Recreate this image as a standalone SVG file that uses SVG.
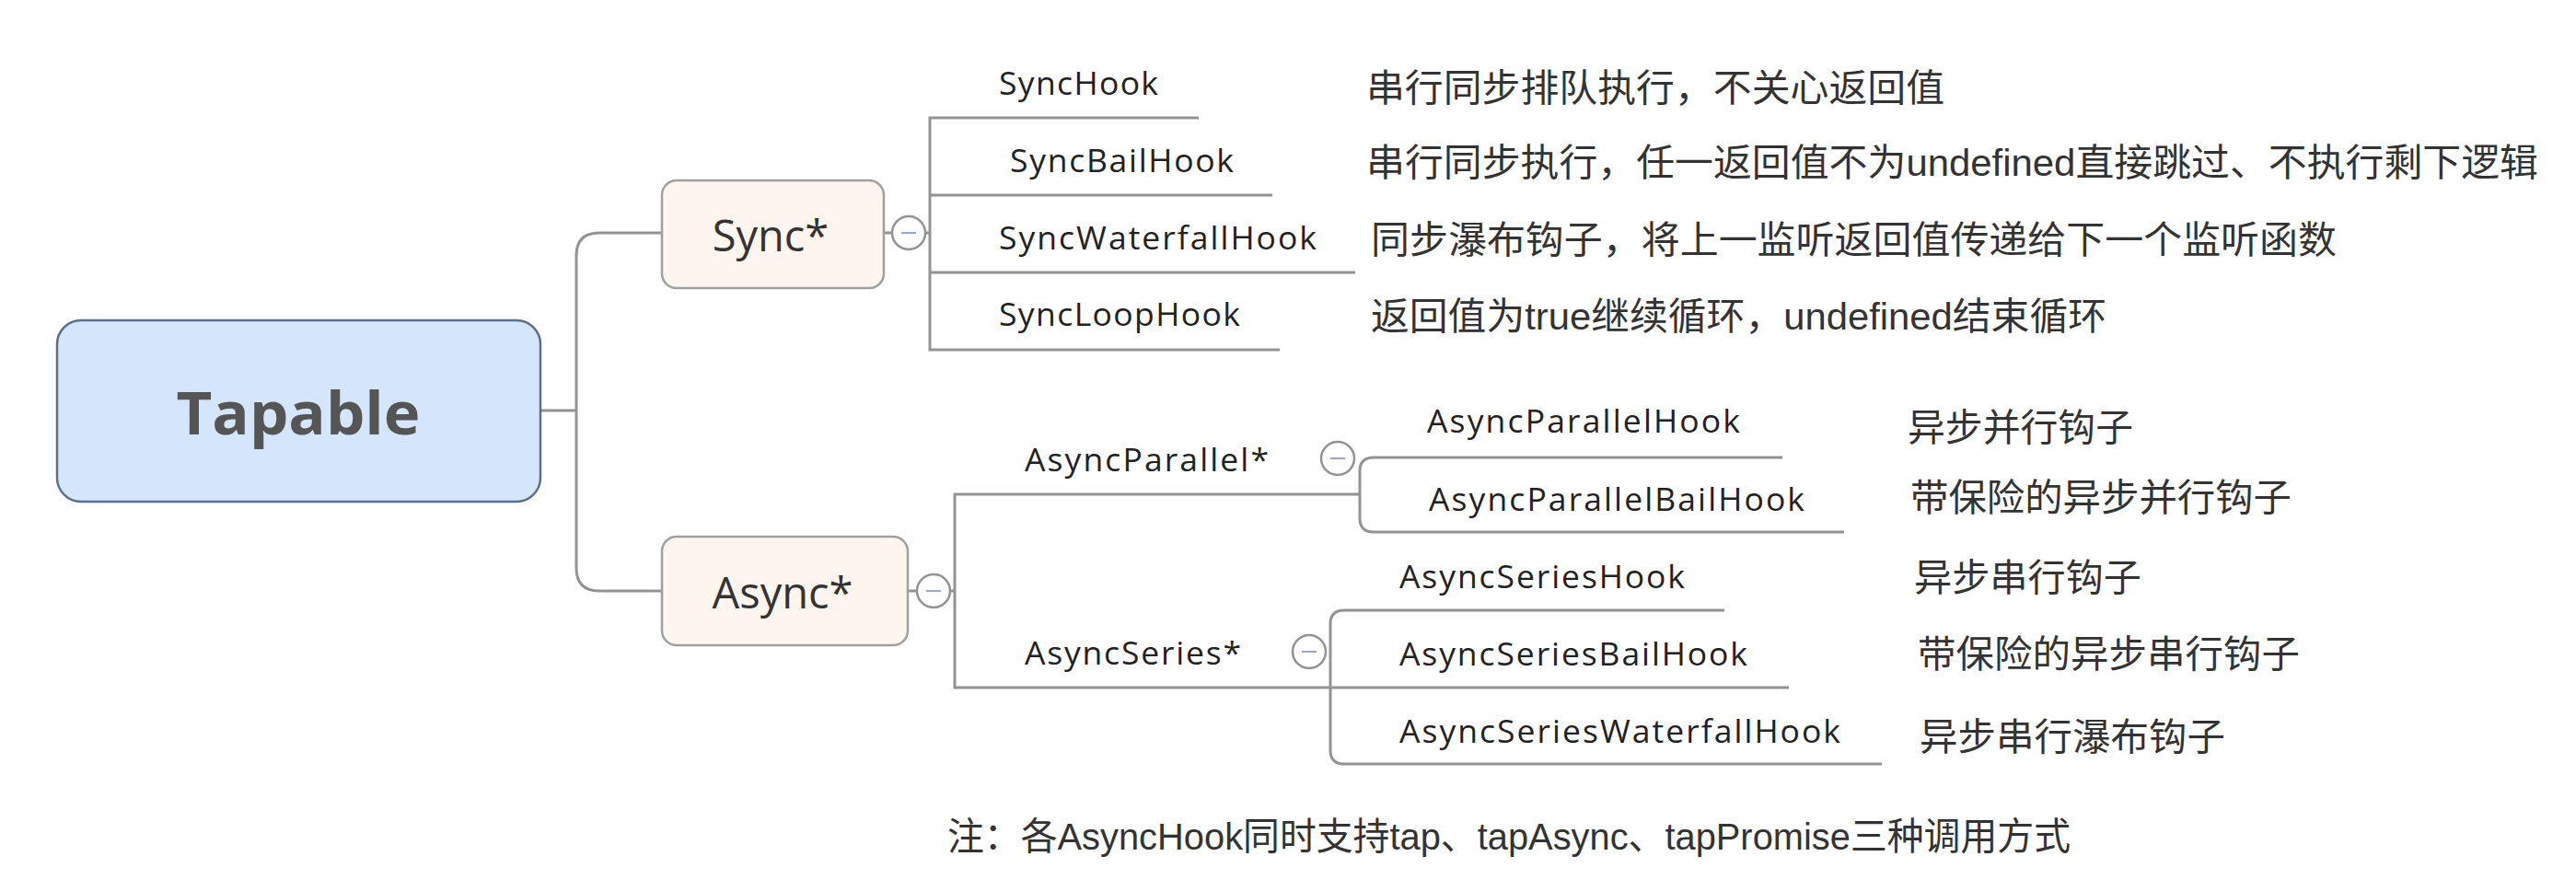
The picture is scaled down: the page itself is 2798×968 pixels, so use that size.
<svg xmlns="http://www.w3.org/2000/svg" width="2798" height="968" viewBox="0 0 2798 968">
<style>
.bg{fill:#ffffff}
.conn{fill:none;stroke:#939393;stroke-width:3}
.toggle circle{fill:#ffffff;stroke:#939393;stroke-width:2.5}
.toggle line{stroke:#98a4d4;stroke-width:2}
.root rect{fill:#d4e5fc;stroke:#5b6f92;stroke-width:2.5}
.root text{font-family:"Open Sans","Liberation Sans",sans-serif;font-weight:bold;font-size:65px;fill:#555555;text-anchor:middle}
.main rect{fill:#fdf5ee;stroke:#a0a0a0;stroke-width:2.5}
.main text{font-family:"Open Sans","Liberation Sans",sans-serif;font-size:47px;fill:#333333;text-anchor:middle}
.lbl{font-family:"Open Sans","Liberation Sans",sans-serif;font-size:35.5px;fill:#222222}
.cn{font-family:"Liberation Sans","Noto Sans CJK SC",sans-serif;font-size:41px;fill:#333333}
</style>
<rect class="bg" x="0" y="0" width="2798" height="968"/>
<g id="connectors">
<path class="conn" d="M587 446 H626"/>
<path class="conn" d="M719 253 H651 Q626 253 626 278 V617 Q626 642 651 642 H719"/>
<path class="conn" d="M960 253 H969 M1005 253 H1010"/>
<path class="conn" d="M1302 128 H1010 V380 H1390 M1010 212 H1382 M1010 296 H1472"/>
<path class="conn" d="M986 642 H996 M1032 642 H1037"/>
<path class="conn" d="M1477 537 H1037 V747 H1943"/>
<path class="conn" d="M1936 497 H1492 Q1477 497 1477 512 V563 Q1477 578 1492 578 H2003"/>
<path class="conn" d="M1873 663 H1460 Q1445 663 1445 678 V815 Q1445 830 1460 830 H2044"/>
</g>
<g id="node-tapable" class="root">
<rect x="62" y="348" width="525" height="197" rx="26" ry="26"/>
<text x="324" y="472" textLength="265" lengthAdjust="spacingAndGlyphs">Tapable</text>
</g>
<g id="node-sync" class="main">
<rect x="719" y="196" width="241" height="117" rx="16" ry="16"/>
<text x="837" y="273">Sync*</text>
</g>
<g id="toggle-sync" class="toggle">
<circle cx="987" cy="253" r="18"/>
<line x1="979" y1="253" x2="995" y2="253"/>
</g>
<g id="node-async" class="main">
<rect x="719" y="583" width="267" height="118" rx="16" ry="16"/>
<text x="850" y="661">Async*</text>
</g>
<g id="toggle-async" class="toggle">
<circle cx="1014" cy="642" r="18"/>
<line x1="1006" y1="642" x2="1022" y2="642"/>
</g>
<g id="node-synchook"><text class="lbl" x="1085" y="103" textLength="173" lengthAdjust="spacing">SyncHook</text></g>
<g id="node-syncbailhook"><text class="lbl" x="1097" y="187" textLength="243" lengthAdjust="spacing">SyncBailHook</text></g>
<g id="node-syncwaterfallhook"><text class="lbl" x="1085" y="271" textLength="345" lengthAdjust="spacing">SyncWaterfallHook</text></g>
<g id="node-syncloophook"><text class="lbl" x="1085" y="354" textLength="262" lengthAdjust="spacing">SyncLoopHook</text></g>
<g id="node-asyncparallel"><text class="lbl" x="1113" y="512" textLength="265" lengthAdjust="spacing">AsyncParallel*</text></g>
<g id="toggle-asyncparallel" class="toggle">
<circle cx="1453" cy="498" r="18"/>
<line x1="1445" y1="498" x2="1461" y2="498"/>
</g>
<g id="node-asyncseries"><text class="lbl" x="1113" y="722" textLength="235" lengthAdjust="spacing">AsyncSeries*</text></g>
<g id="toggle-asyncseries" class="toggle">
<circle cx="1422" cy="708" r="18"/>
<line x1="1414" y1="708" x2="1430" y2="708"/>
</g>
<g id="node-asyncparallelhook"><text class="lbl" x="1550" y="470" textLength="340" lengthAdjust="spacing">AsyncParallelHook</text></g>
<g id="node-asyncparallelbailhook"><text class="lbl" x="1552" y="555" textLength="408" lengthAdjust="spacing">AsyncParallelBailHook</text></g>
<g id="node-asyncserieshook"><text class="lbl" x="1520" y="639" textLength="310" lengthAdjust="spacing">AsyncSeriesHook</text></g>
<g id="node-asyncseriesbailhook"><text class="lbl" x="1520" y="723" textLength="378" lengthAdjust="spacing">AsyncSeriesBailHook</text></g>
<g id="node-asyncserieswaterfallhook"><text class="lbl" x="1520" y="807" textLength="479" lengthAdjust="spacing">AsyncSeriesWaterfallHook</text></g>
<g id="desc-synchook"><text class="cn" x="1484" y="110" textLength="628" lengthAdjust="spacingAndGlyphs">串行同步排队执行，不关心返回值</text></g>
<g id="desc-syncbailhook"><text class="cn" x="1484" y="191" textLength="1273" lengthAdjust="spacingAndGlyphs">串行同步执行，任一返回值不为undefined直接跳过、不执行剩下逻辑</text></g>
<g id="desc-syncwaterfallhook"><text class="cn" x="1489" y="275" textLength="1049" lengthAdjust="spacingAndGlyphs">同步瀑布钩子，将上一监听返回值传递给下一个监听函数</text></g>
<g id="desc-syncloophook"><text class="cn" x="1489" y="358" textLength="799" lengthAdjust="spacingAndGlyphs">返回值为true继续循环，undefined结束循环</text></g>
<g id="desc-asyncparallelhook"><text class="cn" x="2072" y="479" textLength="245" lengthAdjust="spacingAndGlyphs">异步并行钩子</text></g>
<g id="desc-asyncparallelbailhook"><text class="cn" x="2075" y="555" textLength="414" lengthAdjust="spacingAndGlyphs">带保险的异步并行钩子</text></g>
<g id="desc-asyncserieshook"><text class="cn" x="2079" y="642" textLength="247" lengthAdjust="spacingAndGlyphs">异步串行钩子</text></g>
<g id="desc-asyncseriesbailhook"><text class="cn" x="2083" y="725" textLength="415" lengthAdjust="spacingAndGlyphs">带保险的异步串行钩子</text></g>
<g id="desc-asyncserieswaterfallhook"><text class="cn" x="2085" y="815" textLength="332" lengthAdjust="spacingAndGlyphs">异步串行瀑布钩子</text></g>
<g id="note"><text class="cn" x="1029" y="923" textLength="1220" lengthAdjust="spacingAndGlyphs">注：各AsyncHook同时支持tap、tapAsync、tapPromise三种调用方式</text></g>
</svg>
